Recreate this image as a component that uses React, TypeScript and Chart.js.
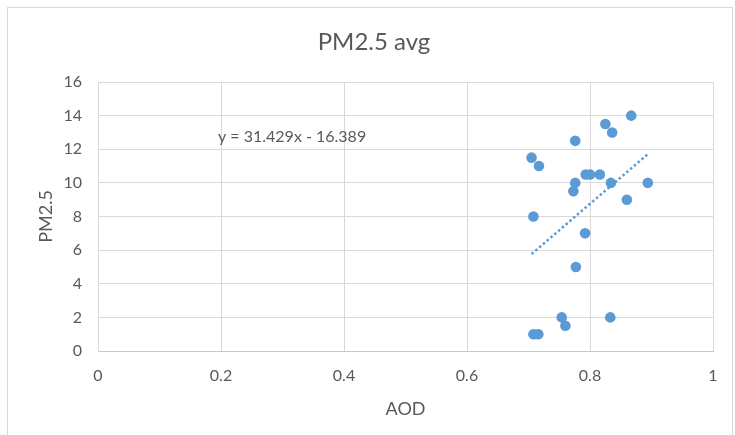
import React, { useEffect, useRef } from "react";
import { Chart, registerables } from "chart.js";

Chart.register(...registerables);

const aod = [0.867, 0.825, 0.836, 0.776, 0.705, 0.717, 0.793, 0.8, 0.816, 0.776, 0.834, 0.894, 0.773, 0.86, 0.708, 0.792, 0.777, 0.754, 0.833, 0.76, 0.708, 0.716];
const pm25 = [14, 13.5, 13, 12.5, 11.5, 11, 10.5, 10.5, 10.5, 10, 10, 10, 9.5, 9, 8, 7, 5, 2, 2, 1.5, 1, 1];
const xTicks = [0, 0.2, 0.4, 0.6, 0.8, 1];
const yTicks = [0, 2, 4, 6, 8, 10, 12, 14, 16];
const trendSlope = 31.429;
const trendIntercept = -16.389;
const titleText = "PM2.5 avg";
const equationText = "y = 31.429x - 16.389";

const FONT = "Lato, 'Open Sans', sans-serif";
const TEXT = "#595959";
const BLUE = "#5B9BD5";

export default function App() {
  const ref = useRef<HTMLCanvasElement>(null);

  useEffect(() => {
    if (!ref.current) return;
    const xMin = Math.min(...aod);
    const xMax = Math.max(...aod);
    const trend = [xMin, xMax].map((x) => ({ x, y: trendSlope * x + trendIntercept }));

    const textPlugin = {
      id: "texts",
      afterDraw(chart: any) {
        const ctx = chart.ctx;
        ctx.save();
        ctx.fillStyle = TEXT;
        ctx.textBaseline = "middle";
        ctx.font = `24px ${FONT}`;
        ctx.textAlign = "center";
        ctx.fillText(titleText, 374, 42);
        ctx.font = `16px ${FONT}`;
        ctx.textAlign = "left";
        ctx.fillText(equationText, 218, 137);
        ctx.restore();
      },
    };

    const chart = new Chart(ref.current, {
      type: "scatter",
      data: {
        datasets: [
          {
            label: "trend",
            type: "line",
            data: trend,
            borderColor: BLUE,
            borderWidth: 2.5,
            borderDash: [2.5, 2.5],
            pointRadius: 0,
            fill: false,
            order: 0,
          } as any,
          {
            label: "PM2.5",
            data: aod.map((x, i) => ({ x, y: pm25[i] })),
            backgroundColor: BLUE,
            borderColor: BLUE,
            borderWidth: 0,
            pointRadius: 5.3,
            order: 1,
          },
        ],
      },
      options: {
        animation: false,
        responsive: true,
        maintainAspectRatio: false,
        layout: { padding: { top: 82, right: 22, left: 0, bottom: 0 } },
        plugins: {
          legend: { display: false },
          title: { display: false },
          tooltip: { enabled: false },
        },
        scales: {
          x: {
            type: "linear",
            min: 0,
            max: 1,
            afterBuildTicks: (scale: any) => {
              scale.ticks = xTicks.map((v) => ({ value: v }));
            },
            afterFit: (scale: any) => {
              scale.height = 84;
            },
            ticks: {
              color: TEXT,
              font: { family: FONT, size: 16 },
              padding: 15,
              callback: (v: any) => String(v),
            },
            grid: { color: "#D9D9D9", drawTicks: false },
            border: { color: "#C8C8C8" },
            title: {
              display: true,
              text: "AOD",
              color: TEXT,
              font: { family: FONT, size: 18 },
              padding: { top: 0, bottom: 15 },
            },
          },
          y: {
            type: "linear",
            min: 0,
            max: 16,
            afterBuildTicks: (scale: any) => {
              scale.ticks = yTicks.map((v) => ({ value: v }));
            },
            afterFit: (scale: any) => {
              scale.width = 98;
            },
            ticks: {
              color: TEXT,
              font: { family: FONT, size: 16 },
              padding: 16,
              callback: (v: any) => String(v),
            },
            grid: { color: "#D9D9D9", drawTicks: false },
            border: { color: "#D9D9D9" },
            title: {
              display: true,
              text: "PM2.5",
              color: TEXT,
              font: { family: FONT, size: 18 },
              padding: { top: 35, bottom: 0 },
            },
          },
        },
      },
      plugins: [textPlugin],
    });
    return () => chart.destroy();
  }, []);

  return (
    <div style={{ position: "fixed", left: 0, top: 0, width: 735, height: 435, overflow: "hidden", background: "#fff" }}>
      <div
        style={{
          position: "absolute",
          left: 7,
          top: 7,
          width: 726,
          height: 440,
          border: "1px solid #D9D9D9",
          boxSizing: "border-box",
        }}
      />
      <div style={{ position: "absolute", left: 0, top: 0, width: 735, height: 435 }}>
        <canvas ref={ref} />
      </div>
    </div>
  );
}
